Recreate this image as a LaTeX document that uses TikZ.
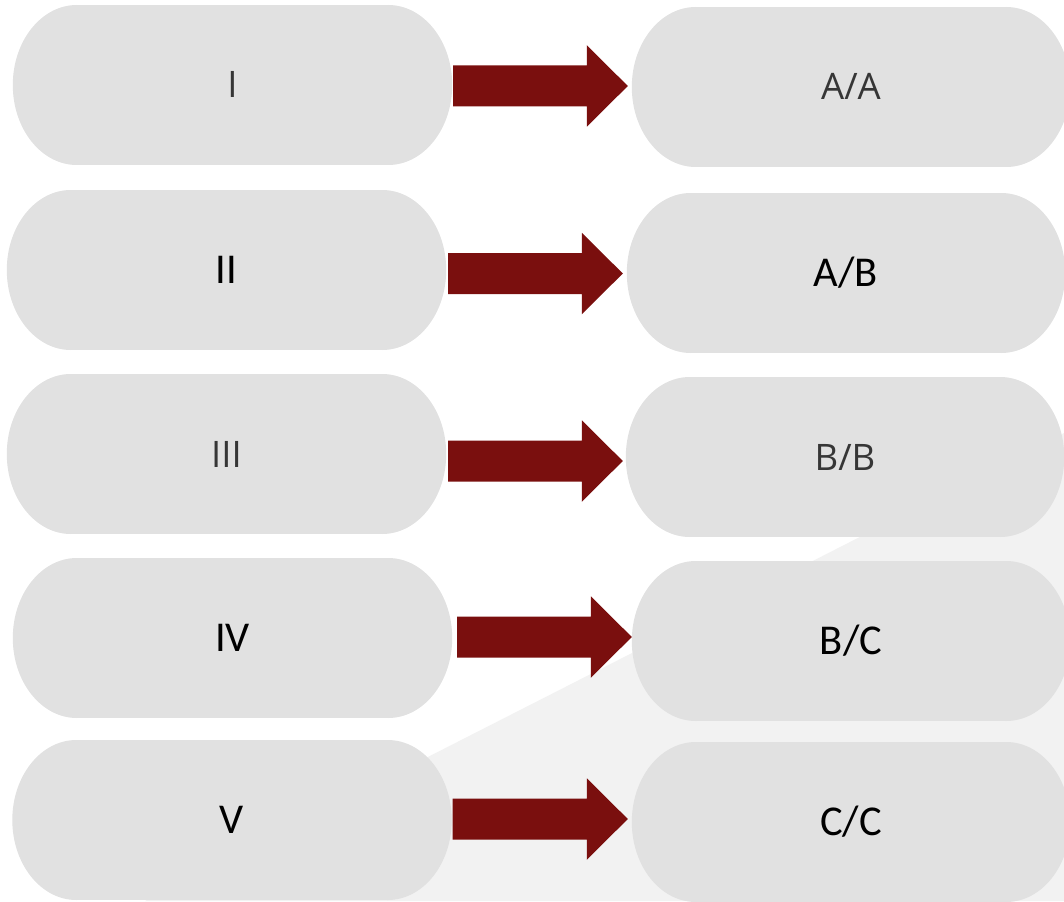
\documentclass[tikz,border=0pt]{standalone}
\usepackage{fontspec}
\newfontfamily\opensans{Open Sans}
\newfontfamily\carlito{Carlito}
\usetikzlibrary{calc,backgrounds}

\definecolor{pillgray}{HTML}{E1E1E1}
\definecolor{shadegray}{HTML}{F2F2F2}
\definecolor{arrowred}{HTML}{7A0F0E}
\definecolor{textgray}{HTML}{363636}

\tikzset{
  leftpill/.style={minimum width=439pt, minimum height=160pt, inner sep=0pt, text depth=0pt},
  rightpill/.style={minimum width=438pt, minimum height=160pt, inner sep=0pt, text depth=0pt},
  lightlabel/.style={font=\opensans\fontsize{36.5}{40}\selectfont, text=textgray, text height=26pt},
  darklabel/.style={font=\carlito\fontsize{42.5}{46}\selectfont, text=black, text height=27pt},
  pillfill/.style={fill=pillgray},
}

% block arrow from a start coordinate to a tip coordinate (kept horizontal)
\newcommand\fatarrow[2]{%
  \fill[arrowred] let \p1=(#1), \p2=(#2) in
    (\x1,\y1+20.5pt) -- (\x2-41pt,\y1+20.5pt) -- (\x2-41pt,\y1+40.75pt)
    -- (\x2,\y1) -- (\x2-41pt,\y1-40.75pt) -- (\x2-41pt,\y1-20.5pt)
    -- (\x1,\y1-20.5pt) -- cycle;}

\begin{document}
\begin{tikzpicture}[x=1pt, y=-1pt]
  \useasboundingbox (0,0) rectangle (1064,901);
  \clip (0,0) rectangle (1064,901);

  % left column
  \node[leftpill, lightlabel] (L1) at (232.5,85)  {I};
  \node[leftpill, darklabel]  (L2) at (226.5,270) {II};
  \node[leftpill, lightlabel] (L3) at (226.5,454) {III};
  \node[leftpill, darklabel]  (L4) at (232.5,638) {IV};
  \node[leftpill, darklabel]  (L5) at (232,820)   {V};

  % right column
  \node[rightpill, lightlabel] (R1) at (851,87)  {A/A};
  \node[rightpill, darklabel]  (R2) at (846,273) {A/B};
  \node[rightpill, lightlabel] (R3) at (845,457) {B/B};
  \node[rightpill, darklabel]  (R4) at (851,641) {B/C};
  \node[rightpill, darklabel]  (R5) at (851,822) {C/C};

  % pill shapes and the shaded wedge behind them
  \begin{scope}[on background layer]
    \fill[shadegray] (145,901) -- (1064,433) -- (1064,901) -- cycle;
    \foreach \n in {L1,L2,L3,L4,L5,R1,R2,R3,R4,R5}{
      \fill[pillfill] ([xshift=64pt]\n.north west) rectangle ([xshift=-64pt]\n.south east);
      \fill[pillfill] ([xshift=64pt]\n.west) ellipse [x radius=64pt, y radius=80pt];
      \fill[pillfill] ([xshift=-64pt]\n.east) ellipse [x radius=64pt, y radius=80pt];
    }
  \end{scope}

  % arrows between the columns
  \coordinate (a1) at ($(L1.east)+(1,1)$);   \coordinate (b1) at ($(R1.west)+(-4,0)$);
  \coordinate (a2) at ($(L2.east)+(2,3.5)$); \coordinate (b2) at ($(R2.west)+(-4,0)$);
  \coordinate (a3) at ($(L3.east)+(2,7)$);   \coordinate (b3) at ($(R3.west)+(-3,0)$);
  \coordinate (a4) at ($(L4.east)+(5,-1)$);  \coordinate (b4) at ($(R4.west)+(0,0)$);
  \coordinate (a5) at ($(L5.east)+(1,-1)$);  \coordinate (b5) at ($(R5.west)+(-4,0)$);
  \fatarrow{a1}{b1}
  \fatarrow{a2}{b2}
  \fatarrow{a3}{b3}
  \fatarrow{a4}{b4}
  \fatarrow{a5}{b5}
\end{tikzpicture}
\end{document}
